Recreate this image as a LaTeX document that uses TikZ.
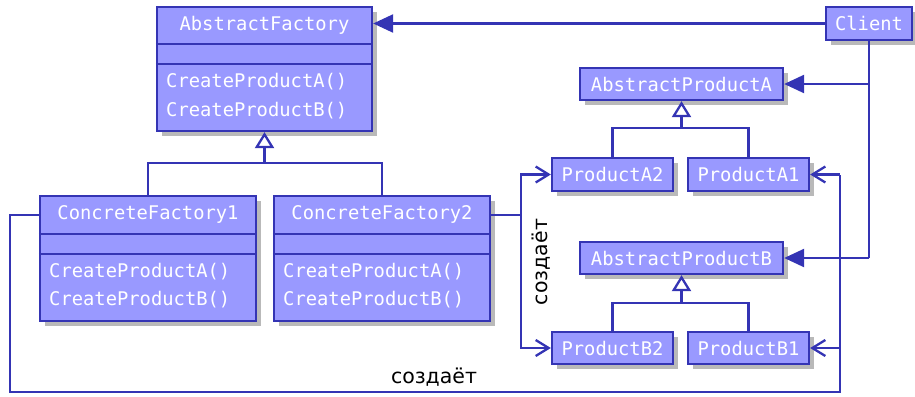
\documentclass[tikz,border=0pt]{standalone}
\usepackage{fontspec}
\setmainfont{DejaVu Sans}
\newfontfamily\umlfont{DejaVu Sans Mono}
\usetikzlibrary{arrows.meta,shadows}
\definecolor{umlfill}{RGB}{153,153,255}
\definecolor{umlline}{RGB}{52,52,180}
\definecolor{umlshadow}{RGB}{185,185,185}
\tikzset{
  box/.style={draw=umlline, fill=umlfill, line width=2.3pt, inner sep=0pt,
    drop shadow={shadow xshift=5pt, shadow yshift=-5pt, fill=umlshadow, opacity=1}},
  ttl/.style={text=white, font=\umlfont\fontsize{18.8}{20}\selectfont, inner sep=0pt},
  meth/.style={ttl, anchor=west},
  divider/.style={draw=umlline, line width=2.3pt},
  conn/.style={draw=umlline, line width=2.3pt},
  filled/.style={conn, -{Triangle[length=20pt,width=18pt]}},
  inherit/.style={conn, -{Triangle[open,length=16pt,width=19pt,fill=white]}},
  creates/.style={conn, -{Straight Barb[length=13pt,width=16pt]}},
  lbl/.style={font=\fontsize{20.5}{23}\selectfont, inner sep=0pt}
}
\begin{document}
\begin{tikzpicture}[x=1pt,y=-1pt]
\useasboundingbox (0,0) rectangle (915,396);
% AbstractFactory
\node[box, minimum width=215pt, minimum height=124pt] (AF) at (264.5,69) {};
\draw[divider] (AF.west |- 0,44) -- (AF.east |- 0,44);
\draw[divider] (AF.west |- 0,64) -- (AF.east |- 0,64);
\node[ttl] (AFt) at (264.5,25) {AbstractFactory};
\node[meth] (AFm1) at (166,82) {CreateProductA()};
\node[meth] (AFm2) at (166,111) {CreateProductB()};
% ConcreteFactory1
\node[box, minimum width=216pt, minimum height=125pt] (CF1) at (148,258.5) {};
\draw[divider] (CF1.west |- 0,234) -- (CF1.east |- 0,234);
\draw[divider] (CF1.west |- 0,254) -- (CF1.east |- 0,254);
\node[ttl] (CF1t) at (148,214) {ConcreteFactory1};
\node[meth] (CF1m1) at (49,272) {CreateProductA()};
\node[meth] (CF1m2) at (49,300) {CreateProductB()};
% ConcreteFactory2
\node[box, minimum width=216pt, minimum height=125pt] (CF2) at (382,258.5) {};
\draw[divider] (CF2.west |- 0,234) -- (CF2.east |- 0,234);
\draw[divider] (CF2.west |- 0,254) -- (CF2.east |- 0,254);
\node[ttl] (CF2t) at (382,214) {ConcreteFactory2};
\node[meth] (CF2m1) at (283,272) {CreateProductA()};
\node[meth] (CF2m2) at (283,300) {CreateProductB()};
% Client
\node[box, minimum width=86pt, minimum height=33pt] (CL) at (869,23.5) {};
\node[ttl] (CLt) at (869,23.5) {Client};
% Abstract products
\node[box, minimum width=203pt, minimum height=32pt] (APA) at (681.5,84) {};
\node[ttl] at (APA) {AbstractProductA};
\node[box, minimum width=203pt, minimum height=32pt] (APB) at (681.5,258) {};
\node[ttl] at (APB) {AbstractProductB};
% Products
\node[box, minimum width=121pt, minimum height=33pt] (PA2) at (612.5,174.5) {};
\node[ttl] at (PA2) {ProductA2};
\node[box, minimum width=121pt, minimum height=33pt] (PA1) at (748.5,174.5) {};
\node[ttl] at (PA1) {ProductA1};
\node[box, minimum width=121pt, minimum height=32pt] (PB2) at (612.5,348) {};
\node[ttl] at (PB2) {ProductB2};
\node[box, minimum width=121pt, minimum height=32pt] (PB1) at (748.5,348) {};
\node[ttl] at (PB1) {ProductB1};
% Client -> AbstractFactory
\draw[filled] (CL.west) -- (CL.west -| AF.east);
% Client -> abstract products
\draw[conn] (CL.south) -- (CL.south |- APB.east);
\draw[filled] (CL.south |- APA.east) -- (APA.east);
\draw[filled] (CL.south |- APB.east) -- (APB.east);
% factory inheritance
\coordinate (jf) at (264.5,163);
\draw[conn] (CF1.north) |- (jf) -| (CF2.north);
\draw[inherit] (jf) -- (AF.south);
% product inheritance
\coordinate (ja) at (681.5,128);
\draw[conn] (PA2.north) |- (ja) -| (PA1.north);
\draw[inherit] (ja) -- (APA.south);
\coordinate (jb) at (681.5,303);
\draw[conn] (PB2.north) |- (jb) -| (PB1.north);
\draw[inherit] (jb) -- (APB.south);
% CF2 creates
\coordinate (c2) at (521,215);
\draw[conn] (c2 -| CF2.east) -- (c2);
\draw[creates] (c2) |- (PA2.west);
\draw[creates] (c2) |- (PB2.west);
\node[lbl, rotate=90] (l2) at (541,262) {создаёт};
% CF1 creates
\coordinate (c1a) at (10,215);
\coordinate (c1b) at (10,392);
\coordinate (c1c) at (840,392);
\draw[conn] (c1a -| CF1.west) -- (c1a) -- (c1b) -- (c1c) -- (c1c |- PA1.east);
\draw[creates] (c1c |- PA1.east) -- (PA1.east);
\draw[creates] (c1c |- PB1.east) -- (PB1.east);
\node[lbl] (l1) at (434,377) {создаёт};
\end{tikzpicture}
\end{document}
